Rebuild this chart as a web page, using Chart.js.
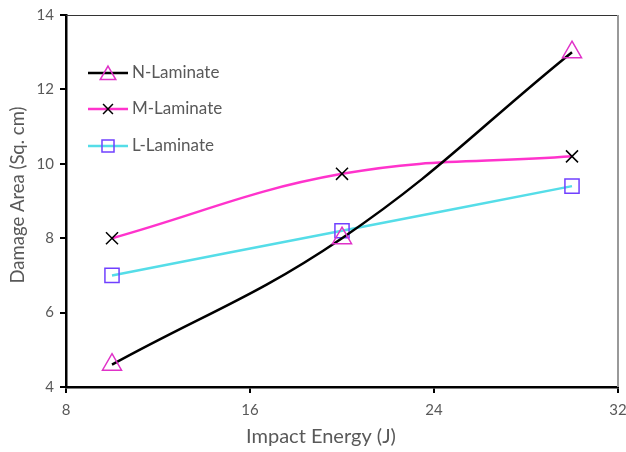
<!DOCTYPE html>
<html><head><meta charset="utf-8">
<script src="https://cdn.jsdelivr.net/npm/chart.js@4/dist/chart.umd.min.js"></script>
<style>html,body{margin:0;padding:0;background:#fff}#wrap{width:626px;height:452px}</style>
</head><body><div id="wrap"><canvas id="c" width="626" height="452"></canvas></div>
<script>
const energy = [10, 20, 30];
const nLaminate = [4.6, 8.0, 13.0];
const mLaminate = [8.0, 9.73, 10.2];
const lLaminate = [7.0, 8.2, 9.4];
const seriesNames = ['N-Laminate', 'M-Laminate', 'L-Laminate'];
const xTicks = [8, 16, 24, 32];
const yTicks = [4, 6, 8, 10, 12, 14];
const xTitle = 'Impact Energy (J)';
const yTitle = 'Damage Area (Sq. cm)';

const FONT = 'Lato, "Open Sans", sans-serif';
const GRAY = '#595959';

function pts(ys){ return energy.map((x,i)=>({x:x,y:ys[i]})); }

const datasets = [
  {label: seriesNames[0], data: pts(nLaminate), borderColor:'#000000', borderWidth:2.5,
   pointStyle:'triangle', pointRadius:11, pointBorderColor:'#E032C8', pointBackgroundColor:'rgba(0,0,0,0)', pointBorderWidth:1.5},
  {label: seriesNames[1], data: pts(mLaminate), borderColor:'#FF33CC', borderWidth:2.5,
   pointStyle:'crossRot', pointRadius:8.5, pointBorderColor:'#000000', pointBackgroundColor:'rgba(0,0,0,0)', pointBorderWidth:1.5},
  {label: seriesNames[2], data: pts(lLaminate), borderColor:'#55DDE8', borderWidth:2.5,
   pointStyle:'rect', pointRadius:10, pointBorderColor:'#7040FF', pointBackgroundColor:'rgba(0,0,0,0)', pointBorderWidth:1.5}
];
datasets.forEach(d=>{ d.tension=0.4; d.fill=false; d.pointHoverRadius=d.pointRadius; d.clip=false; });

const extras = {
  id:'extras',
  afterDraw(chart){
    const ctx = chart.ctx, a = chart.chartArea;
    ctx.save();
    ctx.strokeStyle='#333333'; ctx.lineWidth=1;
    ctx.beginPath(); ctx.moveTo(a.left, a.top+0.5); ctx.lineTo(a.right, a.top+0.5); ctx.stroke();
    ctx.strokeStyle='#999999'; ctx.lineWidth=2;
    ctx.beginPath(); ctx.moveTo(a.right, a.top); ctx.lineTo(a.right, a.bottom); ctx.stroke();
    const rows=[73,109,146];
    chart.data.datasets.forEach((ds,i)=>{
      const y=rows[i];
      ctx.strokeStyle=ds.borderColor; ctx.lineWidth=ds.borderWidth;
      ctx.beginPath(); ctx.moveTo(88,y); ctx.lineTo(128,y); ctx.stroke();
      ctx.strokeStyle=ds.pointBorderColor; ctx.lineWidth=ds.pointBorderWidth; ctx.fillStyle='rgba(0,0,0,0)';
      const r = ds.pointStyle==='triangle'? 9 : (ds.pointStyle==='rect'? 8.5 : 7);
      Chart.helpers.drawPoint(ctx,{pointStyle:ds.pointStyle, radius:r, borderWidth:ds.pointBorderWidth}, 108, y + (ds.pointStyle==='triangle'?2:0));
      ctx.fillStyle=GRAY; ctx.font='17px '+FONT; ctx.textBaseline='middle'; ctx.textAlign='left';
      ctx.fillText(ds.label, 132, y);
    });
    ctx.fillStyle=GRAY; ctx.textAlign='center'; ctx.textBaseline='middle';
    ctx.font='20px '+FONT;
    ctx.fillText(xTitle, 321, 437);
    ctx.translate(18, 195); ctx.rotate(-Math.PI/2);
    ctx.font='18.5px '+FONT;
    ctx.fillText(yTitle, 0, 0);
    ctx.restore();
  }
};

new Chart(document.getElementById('c'), {
  type:'line',
  data:{datasets:datasets},
  options:{
    responsive:false, animation:false, events:[],
    layout:{autoPadding:false, padding:{top:15, right:0, left:0, bottom:0}},
    plugins:{legend:{display:false}, tooltip:{enabled:false}},
    scales:{
      x:{type:'linear', min:8, max:32,
        afterBuildTicks(s){ s.ticks = xTicks.map(v=>({value:v})); },
        afterFit(s){ s.height = 65; s.paddingRight = 8; },
        border:{display:true, color:'#000', width:2.5},
        grid:{drawOnChartArea:false, drawTicks:true, tickLength:6, color:'#000', lineWidth:2},
        ticks:{color:GRAY, font:{family:FONT, size:15}, padding:8, maxRotation:0}
      },
      y:{type:'linear', min:4, max:14,
        afterBuildTicks(s){ s.ticks = yTicks.map(v=>({value:v})); },
        afterFit(s){ s.width = 66; },
        border:{display:true, color:'#000', width:2.5},
        grid:{drawOnChartArea:false, drawTicks:true, tickLength:6, color:'#000', lineWidth:2},
        ticks:{color:GRAY, font:{family:FONT, size:15}, padding:6}
      }
    }
  },
  plugins:[extras]
});
</script></body></html>
